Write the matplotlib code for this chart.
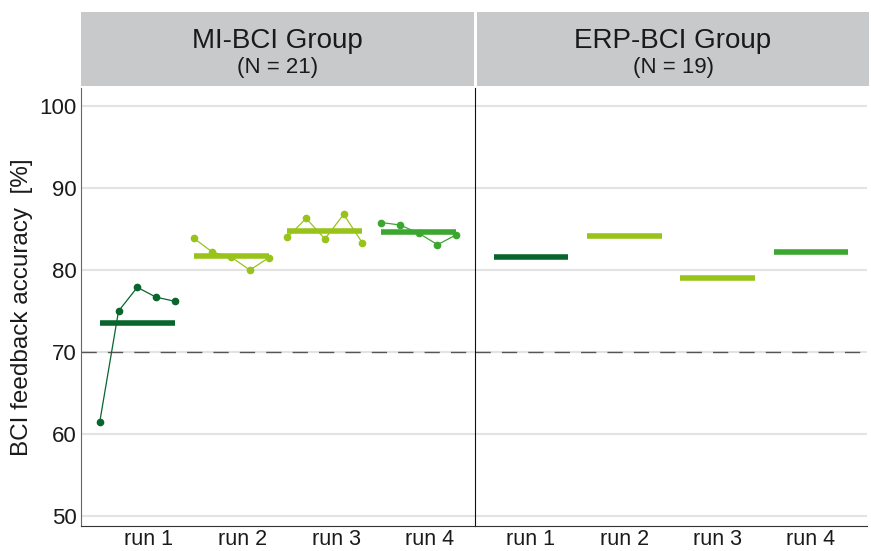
#!/usr/bin/env python

# Import libraries
import matplotlib
matplotlib.use('Agg')
import matplotlib.pyplot as plt
import numpy as np

plt.rcParams['font.family'] = ['Liberation Sans', 'DejaVu Sans']

# Data
runs = ['run 1', 'run 2', 'run 3', 'run 4']
run_colors = ['#07652d', '#98c31a', '#98c31a', '#3ba630']

# MI-BCI: five sub-runs per run plus the run mean
mi_run1 = [61.5, 75.0, 77.9, 76.7, 76.2]
mi_run2 = [83.9, 82.2, 81.6, 80.0, 81.5]
mi_run3 = [84.0, 86.3, 83.8, 86.8, 83.3]
mi_run4 = [85.8, 85.5, 84.5, 83.1, 84.3]
mi_means = [73.5, 81.7, 84.8, 84.6]

# ERP-BCI: only run means
erp_means = [81.6, 84.1, 79.0, 82.2]

groups = ['MI-BCI Group', 'ERP-BCI Group']
group_n = ['(N = 21)', '(N = 19)']
chance_level = 70
text_col = '#1a1a1a'


def style_panel(ax, xtick_shift):
    ax.set_xlim(0.4, 4.6)
    ax.set_ylim(48.8, 102.2)
    ax.set_yticks([50, 60, 70, 80, 90, 100])
    ax.set_xticks(np.arange(1, 5) + xtick_shift)
    ax.set_xticklabels(runs)
    ax.tick_params(axis='x', length=0, pad=2, labelsize=15.5, colors=text_col)
    ax.tick_params(axis='y', length=0, pad=3, labelsize=16, colors=text_col)
    ax.grid(axis='y', color='#e3e3e3', lw=1.5)
    ax.set_axisbelow(True)
    ax.axhline(chance_level, color='#555555', lw=1, dashes=(11, 8), zorder=1)
    for s in ['top', 'right']:
        ax.spines[s].set_visible(False)
    ax.spines['bottom'].set_color('#333333')


fig = plt.figure(figsize=(8.71, 5.51), dpi=100)
ax1 = fig.add_axes([81 / 871, 25 / 551, 394 / 871, 438 / 551])
ax2 = fig.add_axes([475 / 871, 25 / 551, 392 / 871, 438 / 551], sharey=ax1)

# Left panel: sub-runs with connecting lines and the run means
offsets = np.linspace(-0.4, 0.4, 5)
for i, vals in enumerate([mi_run1, mi_run2, mi_run3, mi_run4]):
    x = i + 1
    ax1.plot(x + offsets, vals, '-o', color=run_colors[i], lw=0.9,
             ms=4.5, zorder=3)
    ax1.hlines(mi_means[i], x - 0.4, x + 0.4, color=run_colors[i], lw=4,
               zorder=4)

# Right panel: only the means
for i, m in enumerate(erp_means):
    x = i + 1
    ax2.hlines(m, x - 0.4, x + 0.4, color=run_colors[i], lw=4, zorder=4)

style_panel(ax1, 0.12)
style_panel(ax2, 0.0)
ax1.spines['left'].set_color('#666666')
ax2.spines['left'].set_color('#111111')
ax2.tick_params(axis='y', labelleft=False)

ax1.set_ylabel('BCI feedback accuracy  [%]', fontsize=17.5, labelpad=5,
               color=text_col)

# Grey facet strips on top
strips = [[81 / 871, 465 / 551, 393 / 871, 74 / 551],
          [477 / 871, 465 / 551, 392 / 871, 74 / 551]]
for pos, name, n in zip(strips, groups, group_n):
    sax = fig.add_axes(pos)
    sax.set_facecolor('#c8c9cb')
    sax.set_xticks([])
    sax.set_yticks([])
    for s in sax.spines.values():
        s.set_visible(False)
    sax.text(0.5, 0.61, name, ha='center', va='center', fontsize=20,
             color=text_col)
    sax.text(0.5, 0.25, n, ha='center', va='center', fontsize=16,
             color=text_col)

plt.savefig('out.png', dpi=100)
